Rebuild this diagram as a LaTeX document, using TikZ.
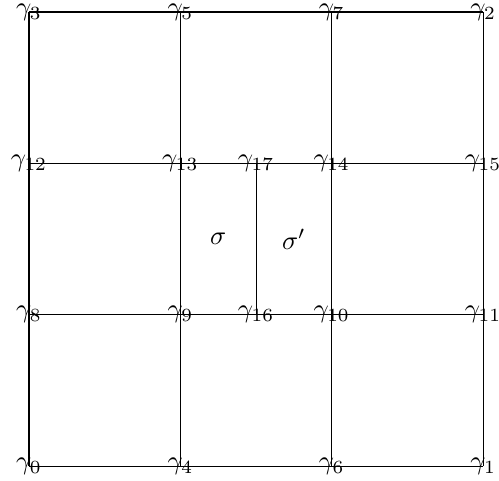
\documentclass[tikz,border=0pt]{standalone}
\usepackage{amsmath}
\usepackage{tikz}
\usetikzlibrary{positioning}

\begin{document}
\begin{tikzpicture}[
  vtx/.style={inner sep=0pt, font=\normalsize},
  edge/.style={draw, line width=0.4pt}
]
  \useasboundingbox (-0.383,-0.185) rectangle (6.21,6.159);

  % Bottom row
  \node[vtx] (g0) at (0,0) {$\gamma_0$};
  \node[vtx] (g4) at (2,0) {$\gamma_4$};
  \node[vtx] (g6) at (4,0) {$\gamma_6$};
  \node[vtx] (g1) at (6,0) {$\gamma_1$};

  % Second row
  \node[vtx] (g8) at (0,2) {$\gamma_8$};
  \node[vtx] (g9) at (2,2) {$\gamma_9$};
  \node[vtx] (g16) at (3,2) {$\gamma_{16}$};
  \node[vtx] (g10) at (4,2) {$\gamma_{10}$};
  \node[vtx] (g11) at (6,2) {$\gamma_{11}$};

  % Third row
  \node[vtx] (g12) at (0,4) {$\gamma_{12}$};
  \node[vtx] (g13) at (2,4) {$\gamma_{13}$};
  \node[vtx] (g17) at (3,4) {$\gamma_{17}$};
  \node[vtx] (g14) at (4,4) {$\gamma_{14}$};
  \node[vtx] (g15) at (6,4) {$\gamma_{15}$};

  % Top row
  \node[vtx] (g3) at (0,6) {$\gamma_3$};
  \node[vtx] (g5) at (2,6) {$\gamma_5$};
  \node[vtx] (g7) at (4,6) {$\gamma_7$};
  \node[vtx] (g2) at (6,6) {$\gamma_2$};

  % Horizontal lines
  \draw[edge] (g0.center) -- (g4.center) -- (g6.center) -- (g1.center);
  \draw[edge] (g8.center) -- (g9.center) -- (g16.center) -- (g10.center) -- (g11.center);
  \draw[edge] (g12.center) -- (g13.center) -- (g17.center) -- (g14.center) -- (g15.center);
  \draw[edge] (g3.center) -- (g5.center) -- (g7.center) -- (g2.center);

  % Vertical lines
  \draw[edge] (g0.center) -- (g8.center) -- (g12.center) -- (g3.center);
  \draw[edge] (g4.center) -- (g9.center) -- (g13.center) -- (g5.center);
  \draw[edge] (g6.center) -- (g10.center) -- (g14.center) -- (g7.center);
  \draw[edge] (g1.center) -- (g11.center) -- (g15.center) -- (g2.center);
  \draw[edge] (g16.center) -- (g17.center);

  % Faces
  \node (s) at (2.5,3) {$\sigma$};
  \node (sp) at (3.5,3) {$\sigma'$};

\end{tikzpicture}
\end{document}
